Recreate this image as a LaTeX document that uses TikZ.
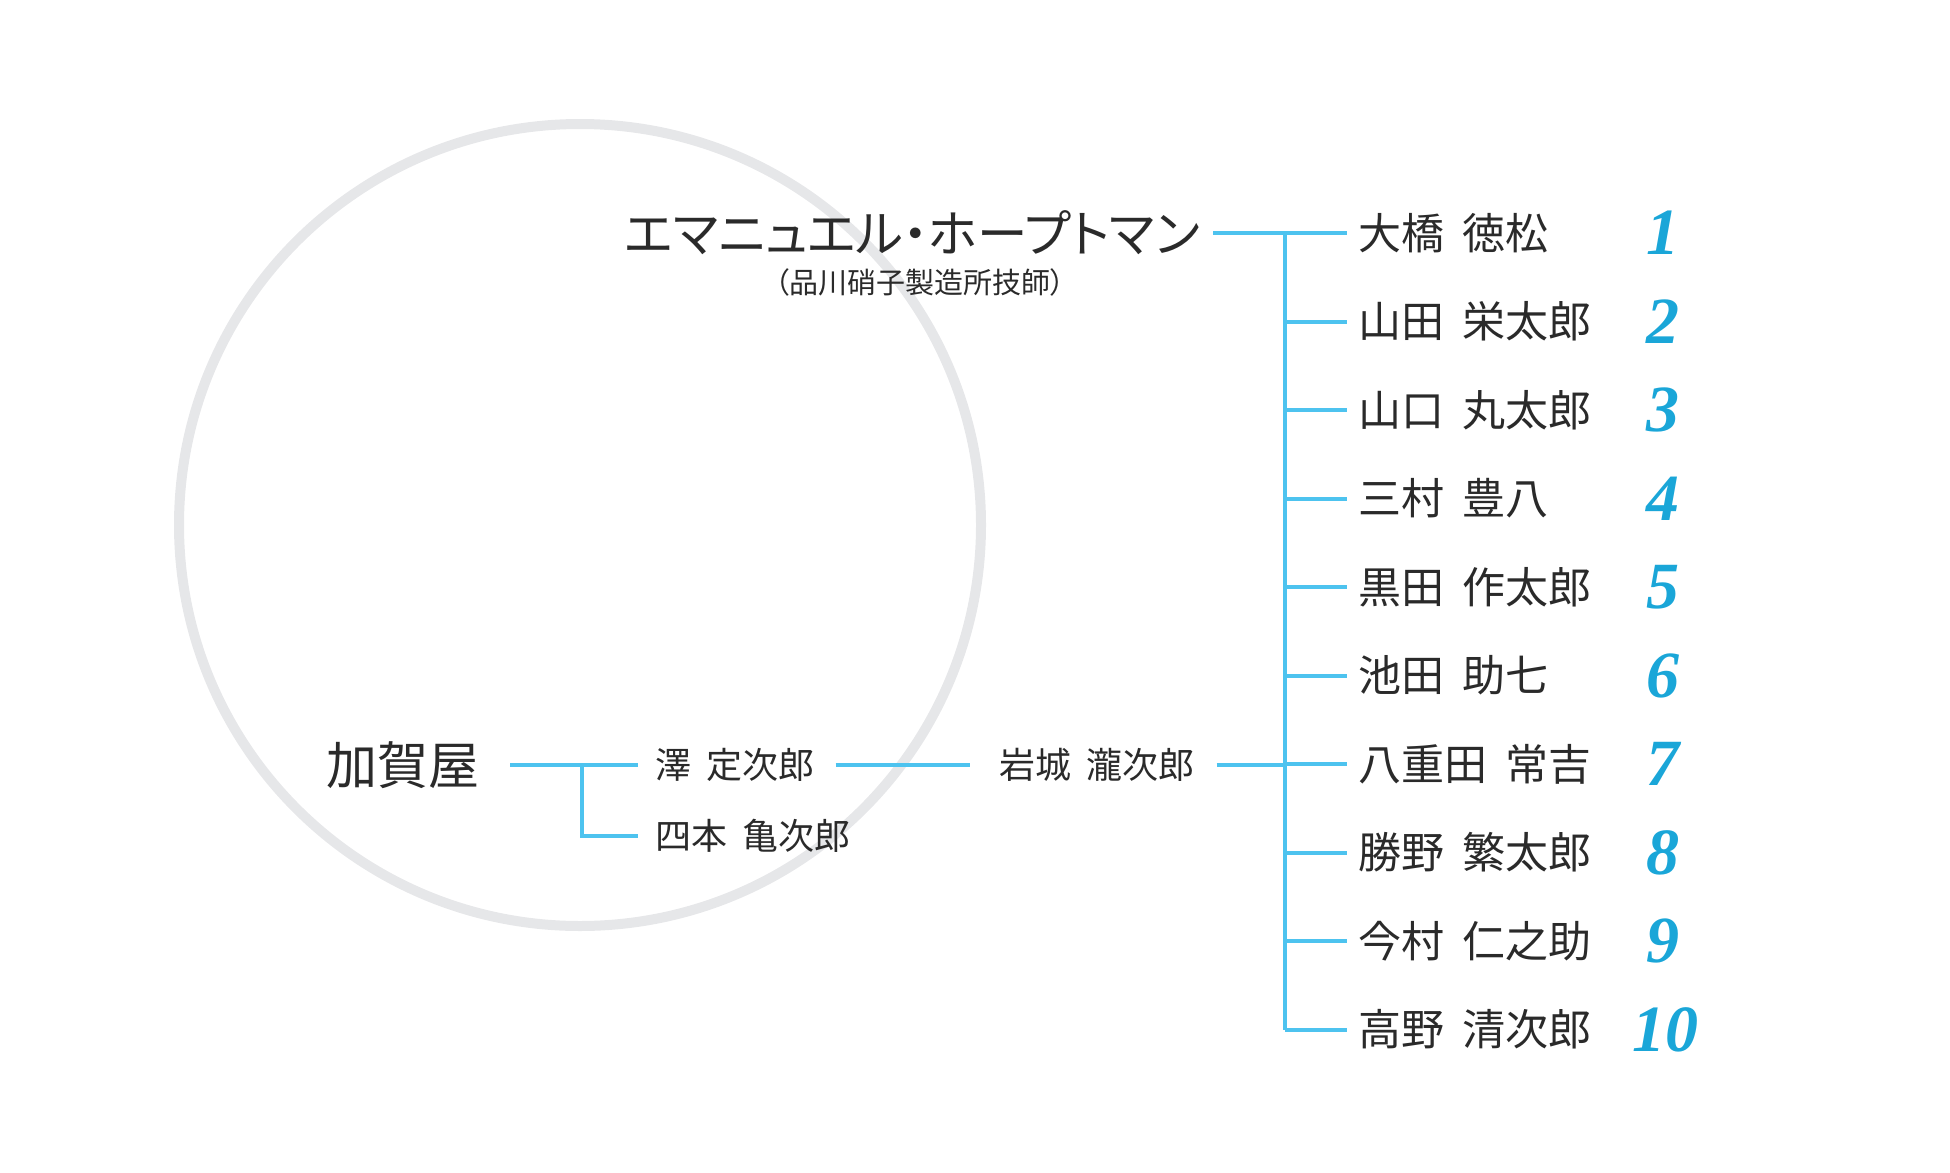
\documentclass[tikz,border=0pt]{standalone}
\usepackage{fontspec}
\setmainfont{Noto Sans CJK JP}
\newfontfamily\numfont{Liberation Serif}
\newfontfamily\paltfont[RawFeature=+palt]{Noto Sans CJK JP}
\usetikzlibrary{positioning}
\definecolor{sky}{HTML}{4DC3EF}
\definecolor{deepsky}{HTML}{1AA6D8}
\definecolor{inkgray}{HTML}{2A2A2A}
\definecolor{ringgray}{HTML}{E6E7E9}
\tikzset{
  person/.style={inner sep=0pt,anchor=west,text=inkgray,font=\fontsize{43}{43}\selectfont},
  minor/.style={inner sep=0pt,text=inkgray,font=\fontsize{36}{36}\selectfont},
  numlabel/.style={inner sep=0pt,text=deepsky,font=\fontsize{66}{66}\numfont\bfseries\itshape},
  branch/.style={draw=sky,line width=4pt},
  ring/.style={draw=ringgray,line width=10pt}
}
\newcommand{\gap}{\hspace{0.42em}}

\begin{document}
\begin{tikzpicture}[x=1pt,y=-1pt]
    \useasboundingbox (0,0) rectangle (1950,1172);
    \draw[ring] (580,525) circle[radius=401];

    % top line
    \node[inner sep=0pt,anchor=east,text=inkgray,font=\fontsize{50.5}{50.5}\paltfont] (hope) at (1200,233) {エマニュエル・ホープトマン};
    \node[inner sep=0pt,text=inkgray,font=\fontsize{29}{29}\paltfont] (hopenote) at (920,282) {（品川硝子製造所技師）};
    \coordinate (trunk) at (1285,233);

    % pupils
    \node[person] (p1) at (1358,233) {大橋\gap 徳松};
    \node[person] (p2) at (1358,321.5) {山田\gap 栄太郎};
    \node[person] (p3) at (1358,410) {山口\gap 丸太郎};
    \node[person] (p4) at (1358,498.5) {三村\gap 豊八};
    \node[person] (p5) at (1358,587) {黒田\gap 作太郎};
    \node[person] (p6) at (1358,675.5) {池田\gap 助七};
    \node[person] (p7) at (1358,764) {八重田\gap 常吉};
    \node[person] (p8) at (1358,852.5) {勝野\gap 繁太郎};
    \node[person] (p9) at (1358,941) {今村\gap 仁之助};
    \node[person] (p10) at (1358,1029.5) {高野\gap 清次郎};

    \node[numlabel] (n1) at (1663,233) {1};
    \node[numlabel] (n2) at (1663,321.5) {2};
    \node[numlabel] (n3) at (1663,410) {3};
    \node[numlabel] (n4) at (1663,498.5) {4};
    \node[numlabel] (n5) at (1663,587) {5};
    \node[numlabel] (n6) at (1663,675.5) {6};
    \node[numlabel] (n7) at (1663,764) {7};
    \node[numlabel] (n8) at (1663,852.5) {8};
    \node[numlabel] (n9) at (1663,941) {9};
    \node[numlabel] (n10) at (1665,1029.5) {10};

    % kagaya line
    \node[inner sep=0pt,anchor=east,text=inkgray,font=\fontsize{51}{51}\selectfont] (kaga) at (480,765) {加賀屋};
    \node[minor,anchor=west] (sawa) at (655,765) {澤\gap 定次郎};
    \node[minor,anchor=west] (yotsu) at (655,836) {四本\gap 亀次郎};
    \node[minor,anchor=west] (iwaki) at (999,765) {岩城\gap 瀧次郎};
    \coordinate (fork) at (582,765);

    % connectors
    \draw[branch] ([xshift=13pt]hope.east) -- ([xshift=-11pt]p1.west);
    \draw[branch] (trunk |- p1) -- (trunk |- p10);
    \draw[branch] (trunk |- p2) -- ([xshift=-11pt]p2.west);
    \draw[branch] (trunk |- p3) -- ([xshift=-11pt]p3.west);
    \draw[branch] (trunk |- p4) -- ([xshift=-11pt]p4.west);
    \draw[branch] (trunk |- p5) -- ([xshift=-11pt]p5.west);
    \draw[branch] (trunk |- p6) -- ([xshift=-11pt]p6.west);
    \draw[branch] (trunk |- p7) -- ([xshift=-11pt]p7.west);
    \draw[branch] (trunk |- p8) -- ([xshift=-11pt]p8.west);
    \draw[branch] (trunk |- p9) -- ([xshift=-11pt]p9.west);
    \draw[branch] (trunk |- p10) -- ([xshift=-11pt]p10.west);
    \draw[branch] ([xshift=30pt]kaga.east) -- ([xshift=-17pt]sawa.west);
    \draw[branch] (fork) |- ([xshift=-17pt]yotsu.west);
    \draw[branch] ([xshift=21pt]sawa.east) -- ([xshift=-29pt]iwaki.west);
    \draw[branch] ([xshift=22pt]iwaki.east) -- (trunk |- iwaki);
  \end{tikzpicture}
\end{document}
